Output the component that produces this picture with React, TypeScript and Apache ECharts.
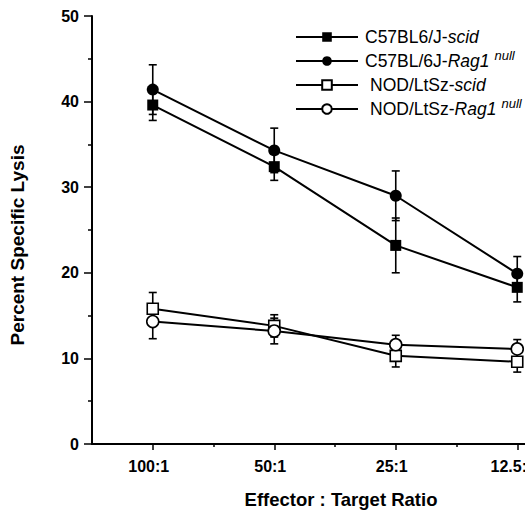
import React, { useEffect, useRef } from "react";
import * as echarts from "echarts";

const categories = ["100:1", "50:1", "25:1", "12.5:1"];
const seriesNames = ["C57BL6/J-scid", "C57BL/6J-Rag1 null", "NOD/LtSz-scid", "NOD/LtSz-Rag1 null"];
const b6Scid = [39.6, 32.4, 23.2, 18.3];
const b6ScidErr = [1.8, 1.6, 3.2, 1.7];
const b6Rag = [41.4, 34.3, 29.0, 19.9];
const b6RagErr = [2.9, 2.6, 2.9, 2.0];
const nodScid = [15.8, 13.8, 10.3, 9.6];
const nodScidErr = [1.9, 1.3, 1.3, 1.2];
const nodRag = [14.3, 13.2, 11.6, 11.1];
const nodRagErr = [2.0, 1.5, 1.1, 1.1];
const yTicks = [0, 10, 20, 30, 40, 50];

const FONT = "'Liberation Sans', Arial, Helvetica, sans-serif";

const legendRich: Record<string, string> = {
  "C57BL6/J-scid": "{n|C57BL6/J-}{i|scid}",
  "C57BL/6J-Rag1 null": "{n|C57BL/6J-}{i|Rag1}{s|null}",
  "NOD/LtSz-scid": "{p|NOD/LtSz-}{i|scid}",
  "NOD/LtSz-Rag1 null": "{p|NOD/LtSz-}{i|Rag1}{s|null}",
};

function errorSeries(values: number[], errs: number[]) {
  return {
    type: "custom",
    z: 2,
    silent: true,
    data: values.map((v, i) => [i, v - errs[i], v + errs[i]]),
    renderItem: (params: any, api: any) => {
      const x = api.value(0);
      const lo = api.coord([x, api.value(1)]);
      const hi = api.coord([x, api.value(2)]);
      const hw = 4;
      const style = { stroke: "#000", lineWidth: 1.6 };
      return {
        type: "group",
        children: [
          { type: "line", shape: { x1: lo[0], y1: lo[1], x2: hi[0], y2: hi[1] }, style },
          { type: "line", shape: { x1: lo[0] - hw, y1: lo[1], x2: lo[0] + hw, y2: lo[1] }, style },
          { type: "line", shape: { x1: hi[0] - hw, y1: hi[1], x2: hi[0] + hw, y2: hi[1] }, style },
        ],
      };
    },
  };
}

function lineSeries(name: string, values: number[], symbol: string, size: number, filled: boolean) {
  return {
    name,
    type: "line",
    z: 3,
    data: values.map((v, i) => [i, v]),
    symbol,
    symbolSize: size,
    showAllSymbol: true,
    lineStyle: { color: "#000", width: 2 },
    itemStyle: { color: filled ? "#000" : "#fff", borderColor: "#000", borderWidth: filled ? 0 : 1.6 },
  };
}

export default function App() {
  const ref = useRef<HTMLDivElement>(null);
  useEffect(() => {
    if (!ref.current) return;
    const chart = echarts.init(ref.current, undefined, { renderer: "svg" });
    chart.setOption({
      animation: false,
      backgroundColor: "#fff",
      textStyle: { fontFamily: FONT },
      grid: { left: 92, top: 16, bottom: 66, right: 0 },
      xAxis: [
        {
          type: "value",
          min: -0.5,
          max: 3.5,
          interval: 0.5,
          axisLine: { show: true, onZero: false, lineStyle: { color: "#000", width: 2 } },
          axisTick: { show: true, customValues: [0, 1, 2, 3], length: 6, lineStyle: { color: "#000", width: 1.5 } },
          axisLabel: {
            customValues: [0, 1, 2, 3],
            formatter: (v: number) => categories[Math.round(v)] ?? "",
            color: "#000",
            fontWeight: "bold",
            fontSize: 16,
            fontFamily: FONT,
            margin: 14,
            padding: [0, 8, 0, 0],
          },
          splitLine: { show: false },
        },
        {
          type: "value",
          min: -0.5,
          max: 3.5,
          interval: 0.5,
          position: "bottom",
          axisLine: { show: false, onZero: false },
          axisTick: { show: true, customValues: [0.5, 1.5, 2.5], length: 3, lineStyle: { color: "#000", width: 1.5 } },
          axisLabel: { show: false },
          splitLine: { show: false },
        },
      ],
      yAxis: {
        type: "value",
        min: 0,
        max: 50,
        interval: 10,
        axisLine: { show: true, onZero: false, lineStyle: { color: "#000", width: 2 } },
        axisTick: { show: true, length: 8, lineStyle: { color: "#000", width: 1.5 } },
        minorTick: { show: true, splitNumber: 2, length: 4, lineStyle: { color: "#000", width: 1.5 } },
        axisLabel: {
          formatter: (v: number) => (yTicks.includes(v) ? String(v) : ""),
          color: "#000",
          fontWeight: "bold",
          fontSize: 16,
          fontFamily: FONT,
          margin: 13,
        },
        splitLine: { show: false },
      },
      legend: {
        data: seriesNames,
        orient: "vertical",
        left: 290,
        top: 20,
        itemWidth: 62,
        itemHeight: 12,
        itemGap: 0,
        selectedMode: false,
        formatter: (name: string) => legendRich[name] ?? name,
        textStyle: {
          color: "#000",
          fontSize: 17.5,
          lineHeight: 24,
          fontFamily: FONT,
          padding: [0, 0, 0, 2],
          rich: {
            n: { fontSize: 17.5, lineHeight: 24, fontFamily: FONT, color: "#000" },
            p: { fontSize: 17.5, lineHeight: 24, fontFamily: FONT, color: "#000", padding: [0, 0, 0, 5] },
            i: { fontSize: 17.5, lineHeight: 24, fontFamily: FONT, color: "#000", fontStyle: "italic" },
            s: {
              fontSize: 13,
              lineHeight: 4,
              fontFamily: FONT,
              color: "#000",
              fontStyle: "italic",
              verticalAlign: "top",
              padding: [0, 0, 0, 5],
            },
          },
        },
      },
      graphic: [
        {
          type: "text",
          x: 17,
          y: 245,
          rotation: Math.PI / 2,
          style: {
            text: "Percent Specific Lysis",
            fontSize: 19,
            fontWeight: "bold",
            fontFamily: FONT,
            fill: "#000",
            textAlign: "center",
            textVerticalAlign: "middle",
          },
        },
        {
          type: "text",
          x: 341,
          y: 499,
          style: {
            text: "Effector : Target Ratio",
            fontSize: 18.5,
            fontWeight: "bold",
            fontFamily: FONT,
            fill: "#000",
            textAlign: "center",
            textVerticalAlign: "middle",
          },
        },
      ],
      series: [
        errorSeries(b6Scid, b6ScidErr),
        errorSeries(b6Rag, b6RagErr),
        errorSeries(nodScid, nodScidErr),
        errorSeries(nodRag, nodRagErr),
        lineSeries(seriesNames[0], b6Scid, "rect", 11, true),
        lineSeries(seriesNames[1], b6Rag, "circle", 12, true),
        lineSeries(seriesNames[2], nodScid, "rect", 11, false),
        lineSeries(seriesNames[3], nodRag, "circle", 12, false),
      ],
    });
    return () => chart.dispose();
  }, []);
  return (
    <div style={{ position: "absolute", left: 0, top: 0, width: 525, height: 510, overflow: "hidden" }}>
      <div ref={ref} style={{ width: 578, height: 510 }} />
    </div>
  );
}
